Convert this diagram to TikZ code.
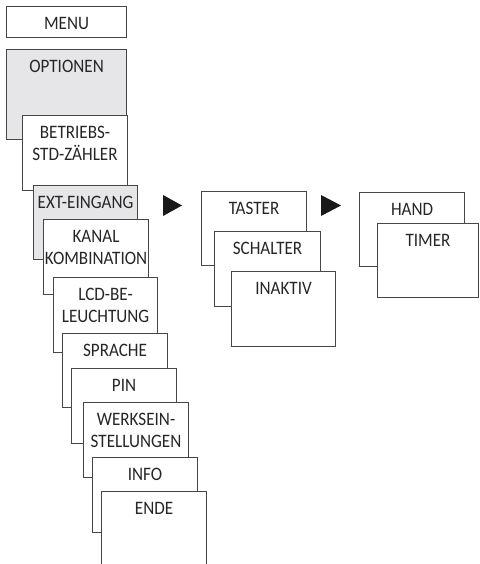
\documentclass[tikz,border=0pt]{standalone}
\usepackage{fontspec}
\setmainfont{Carlito}[FakeStretch=0.9]
\definecolor{boxline}{RGB}{70,70,70}
\definecolor{boxgray}{RGB}{230,230,232}
\definecolor{arrowfill}{RGB}{25,25,25}
\tikzset{
	menubox/.style={draw=boxline, line width=1.1pt, fill=white, anchor=north west, inner sep=0pt, minimum width=105pt, minimum height=75pt},
	selbox/.style={menubox, fill=boxgray},
	boxtext/.style={anchor=north, inner sep=0pt, yshift=-11pt, align=center, text=black!85, font=\fontsize{19}{22}\selectfont}
}

\begin{document}
\begin{tikzpicture}[x=1pt, y=-1pt]
	\useasboundingbox (0,0) rectangle (479,564);
	
	\node[menubox, minimum width=120pt, minimum height=31pt, label={[boxtext]north:MENU}] (menu) at (6,6) {};
	\node[selbox, minimum width=120pt, minimum height=90pt, label={[boxtext]north:OPTIONEN}] (optionen) at (6,49) {};
	\node[menubox, label={[boxtext]north:{BETRIEBS-\\STD-ZÄHLER}}] (betriebs) at (22,115) {};
	\node[selbox, minimum width=104pt, minimum height=74pt, label={[boxtext]north:EXT-EINGANG}] (ext) at (33,185) {};
	\node[menubox, label={[boxtext]north:{KANAL\\KOMBINATION}}] (kanal) at (43,219) {};
	\node[menubox, minimum width=104pt, label={[boxtext]north:{LCD-BE-\\LEUCHTUNG}}] (lcd) at (53,277) {};
	\node[menubox, minimum height=74pt, label={[boxtext]north:SPRACHE}] (sprache) at (62,333) {};
	\node[menubox, label={[boxtext]north:PIN}] (pin) at (71,368) {};
	\node[menubox, label={[boxtext]north:{WERKSEIN-\\STELLUNGEN}}] (werks) at (83,402) {};
	\node[menubox, label={[boxtext]north:INFO}] (info) at (92,457) {};
	\node[menubox, minimum height=80pt, label={[boxtext]north:ENDE}] (ende) at (101,491) {};
	
	\fill[arrowfill] (163,195) -- (163,216) -- (182,205.5) -- cycle;
	
	\node[menubox, minimum height=74pt, label={[boxtext]north:TASTER}] (taster) at (201,191) {};
	\node[menubox, minimum width=106pt, label={[boxtext]north:SCHALTER}] (schalter) at (214,231) {};
	\node[menubox, minimum width=104pt, label={[boxtext]north:INAKTIV}] (inaktiv) at (231,271) {};
	
	\fill[arrowfill] (321,195) -- (321,216) -- (341,205.5) -- cycle;
	
	\node[menubox, minimum height=74pt, label={[boxtext]north:HAND}] (hand) at (359,192) {};
	\node[menubox, minimum width=101pt, minimum height=74pt, label={[boxtext]north:TIMER}] (timer) at (377,223) {};
\end{tikzpicture}
\end{document}
